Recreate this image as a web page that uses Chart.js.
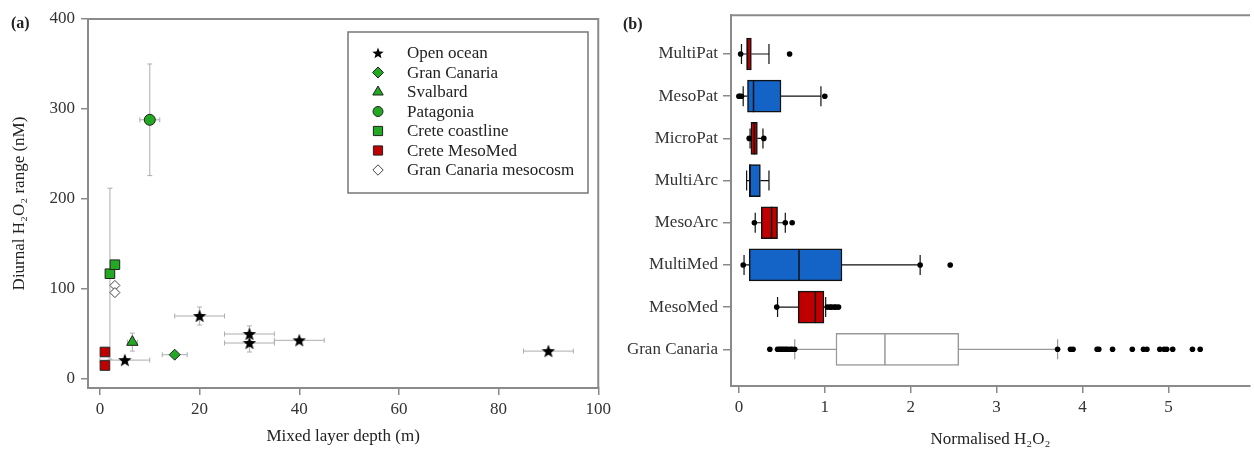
<!DOCTYPE html>
<html>
<head>
<meta charset="utf-8">
<script src="https://cdn.jsdelivr.net/npm/chart.js@4.4.1/dist/chart.umd.min.js"></script>
<style>
  html, body { margin: 0; padding: 0; background: #fff; }
  #wrapA { position: absolute; left: 0; top: 0; width: 615px; height: 450px; }
  #wrapB { position: absolute; left: 615px; top: 0; width: 639px; height: 450px; }
</style>
</head>
<body>
<div id="wrapA"><canvas id="chartA" width="615" height="450"></canvas></div>
<div id="wrapB"><canvas id="chartB" width="639" height="450"></canvas></div>
<script>
// ---- panel (a): diurnal range vs mixed layer depth ----
const groups = ['Open ocean', 'Gran Canaria', 'Svalbard', 'Patagonia', 'Crete coastline', 'Crete MesoMed', 'Gran Canaria mesocosm'];
const depthX = [[5, 20, 30, 30, 40, 90], [15], [6.5], [10], [2, 3], [1, 1], [3, 3]];
const rangeY = [[21, 70, 50, 40, 43, 31], [27], [41], [288], [117, 127], [30, 15], [104, 96]];
const depthErr = [[5, 5, 5, 5, 5, 5], [2.5], [1], [2], [0, 0], [0, 0], [0, 0]];
const rangeErr = [[0, 10, 9, 10, 0, 0], [0], [10], [62], [95, 0], [0, 0], [0, 0]];
const depthTicks = [0, 20, 40, 60, 80, 100];
const rangeTicks = [0, 100, 200, 300, 400];

// ---- panel (b): normalised H2O2 box plots ----
const boxNames = ['MultiPat', 'MesoPat', 'MicroPat', 'MultiArc', 'MesoArc', 'MultiMed', 'MesoMed', 'Gran Canaria'];
const whiskerLow = [0.03, 0.05, 0.13, 0.09, 0.19, 0.06, 0.45, 0.65];
const quart1 = [0.09, 0.10, 0.14, 0.12, 0.26, 0.12, 0.69, 1.13];
const medians = [0.10, 0.17, 0.18, 0.13, 0.38, 0.70, 0.89, 1.70];
const quart3 = [0.145, 0.49, 0.215, 0.25, 0.45, 1.20, 0.99, 2.56];
const whiskerHigh = [0.35, 0.955, 0.28, 0.35, 0.54, 2.11, 1.01, 3.71];
const outliers = [
  [0.02, 0.59],
  [0.0, 0.01, 0.03, 1.0],
  [0.12, 0.29],
  [],
  [0.18, 0.54, 0.62],
  [0.05, 2.11, 2.46],
  [0.44, 1.03, 1.06, 1.08, 1.11, 1.13, 1.16],
  [0.36, 0.45, 0.47, 0.49, 0.51, 0.53, 0.55, 0.57, 0.60, 0.62, 0.65,
   3.71, 3.86, 3.89, 4.17, 4.19, 4.35, 4.58, 4.71, 4.75, 4.90, 4.95, 4.98, 5.05, 5.28, 5.37]
];
const normTicks = [0, 1, 2, 3, 4, 5];

const GREEN = '#22a822';
const RED = '#c00000';
const BLUE = '#1463c6';
const AXIS = '#8a8a8a';
const FONT = "'Liberation Serif', 'Times New Roman', serif";

Chart.defaults.font.family = FONT;
Chart.defaults.color = '#333';

// filled five-point star used as a point style
function makeStar(size, color) {
  const c = document.createElement('canvas');
  c.width = size; c.height = size;
  const g = c.getContext('2d');
  const r1 = size / 2, r2 = size / 2 * 0.42;
  g.beginPath();
  for (let i = 0; i < 10; i++) {
    const r = i % 2 ? r2 : r1;
    const a = -Math.PI / 2 + i * Math.PI / 5;
    g.lineTo(size / 2 + r * Math.cos(a), size / 2 + 0.5 + r * Math.sin(a));
  }
  g.closePath();
  g.fillStyle = color;
  g.fill();
  return c;
}
const starBig = makeStar(14, '#000');
const starSmall = makeStar(12, '#000');

const markStyle = [
  { style: starBig, legendStyle: starSmall, r: 6, fill: '#000', line: '#000' },
  { style: 'rectRot', r: 5.5, fill: GREEN, line: '#222' },
  { style: 'triangle', r: 6.5, fill: GREEN, line: '#222' },
  { style: 'circle', r: 5.5, fill: GREEN, line: '#222' },
  { style: 'rect', r: 6.8, fill: GREEN, line: '#222' },
  { style: 'rect', r: 6.8, fill: RED, line: '#222' },
  { style: 'rectRot', r: 5, fill: '#fff', line: '#444' }
];

const errorBars = {
  id: 'errorBars',
  beforeDatasetsDraw(chart) {
    const { ctx, scales: { x, y } } = chart;
    ctx.save();
    ctx.strokeStyle = '#adadad';
    ctx.lineWidth = 1;
    depthX.forEach((xs, g) => xs.forEach((xv, i) => {
      const px = x.getPixelForValue(xv);
      const py = y.getPixelForValue(rangeY[g][i]);
      const dx = depthErr[g][i], dy = rangeErr[g][i];
      ctx.beginPath();
      if (dx) {
        const a = x.getPixelForValue(xv - dx), b = x.getPixelForValue(xv + dx);
        ctx.moveTo(a, py); ctx.lineTo(b, py);
        ctx.moveTo(a, py - 2.5); ctx.lineTo(a, py + 2.5);
        ctx.moveTo(b, py - 2.5); ctx.lineTo(b, py + 2.5);
      }
      if (dy) {
        const a = y.getPixelForValue(rangeY[g][i] + dy), b = y.getPixelForValue(rangeY[g][i] - dy);
        ctx.moveTo(px, a); ctx.lineTo(px, b);
        ctx.moveTo(px - 2.5, a); ctx.lineTo(px + 2.5, a);
        ctx.moveTo(px - 2.5, b); ctx.lineTo(px + 2.5, b);
      }
      ctx.stroke();
    }));
    ctx.restore();
  }
};

function drawMark(ctx, st, x, y, r) {
  if (typeof st.style !== 'string') {
    const img = st.legendStyle || st.style;
    ctx.drawImage(img, x - img.width / 2, y - img.height / 2);
    return;
  }
  ctx.beginPath();
  if (st.style === 'rect') {
    const s = r * Math.SQRT1_2;
    ctx.rect(x - s, y - s, 2 * s, 2 * s);
  } else if (st.style === 'rectRot') {
    ctx.moveTo(x, y - r); ctx.lineTo(x + r, y); ctx.lineTo(x, y + r); ctx.lineTo(x - r, y); ctx.closePath();
  } else if (st.style === 'triangle') {
    ctx.moveTo(x, y - r); ctx.lineTo(x + r * 0.87, y + r * 0.5); ctx.lineTo(x - r * 0.87, y + r * 0.5); ctx.closePath();
  } else {
    ctx.arc(x, y, r, 0, Math.PI * 2);
  }
  ctx.fillStyle = st.fill; ctx.fill();
  ctx.strokeStyle = st.line; ctx.lineWidth = 1; ctx.stroke();
}

const frameA = {
  id: 'frameA',
  afterDraw(chart) {
    const { ctx, chartArea: a } = chart;
    ctx.save();
    ctx.strokeStyle = AXIS;
    ctx.lineWidth = 2;
    ctx.beginPath();
    ctx.moveTo(a.left, a.top); ctx.lineTo(a.right, a.top); ctx.lineTo(a.right, a.bottom);
    ctx.stroke();
    // legend box
    const bx = a.left + 260, by = a.top + 13, bw = 240, bh = 161;
    ctx.lineWidth = 1.5;
    ctx.strokeStyle = '#777';
    ctx.strokeRect(bx, by, bw, bh);
    ctx.font = '17px ' + FONT;
    ctx.fillStyle = '#222';
    ctx.textBaseline = 'middle';
    groups.forEach((name, i) => {
      const yy = by + 21 + i * 19.5;
      const r = [5, 5.5, 6, 5, 6.5, 6.5, 5.2][i];
      drawMark(ctx, markStyle[i], bx + 30, yy, r);
      ctx.fillStyle = '#222';
      ctx.fillText(name, bx + 59, yy + 1);
    });
    ctx.font = 'bold 16px ' + FONT;
    ctx.textBaseline = 'alphabetic';
    ctx.fillText('(a)', 11, 28);
    ctx.restore();
  }
};

new Chart(document.getElementById('chartA'), {
  type: 'scatter',
  data: {
    datasets: groups.map((name, g) => ({
      label: name,
      data: depthX[g].map((xv, i) => ({ x: xv, y: rangeY[g][i] })),
      pointStyle: markStyle[g].style,
      pointRadius: markStyle[g].r,
      backgroundColor: markStyle[g].fill,
      borderColor: markStyle[g].line,
      borderWidth: 1
    }))
  },
  options: {
    responsive: false,
    animation: false,
    devicePixelRatio: 1,
    layout: { padding: { top: 19, right: 6, left: 0, bottom: 0 } },
    plugins: { legend: { display: false }, tooltip: { enabled: false } },
    scales: {
      x: {
        type: 'linear', min: -2.4, max: 100,
        afterBuildTicks(s) { s.ticks = depthTicks.map(v => ({ value: v })); },
        ticks: { font: { size: 17 }, padding: 4, color: '#333' },
        grid: { drawOnChartArea: false, tickLength: 7, color: AXIS, lineWidth: 1.5 },
        border: { color: AXIS, width: 2 },
        title: { display: true, text: 'Mixed layer depth (m)', font: { size: 17 }, color: '#222', padding: { bottom: 3 } },
        afterFit(s) { s.height = 62; }
      },
      y: {
        type: 'linear', min: -10, max: 400,
        afterBuildTicks(s) { s.ticks = rangeTicks.map(v => ({ value: v })); },
        ticks: { font: { size: 17 }, padding: 6, color: '#333' },
        grid: { drawOnChartArea: false, tickLength: 7, color: AXIS, lineWidth: 1.5 },
        border: { color: AXIS, width: 2 },
        title: { display: true, text: 'Diurnal H₂O₂ range (nM)', font: { size: 17 }, color: '#222', padding: { top: 9 } },
        afterFit(s) { s.width = 88; }
      }
    }
  },
  plugins: [errorBars, frameA]
});

// ---- panel (b) ----
const boxFill = [RED, BLUE, RED, BLUE, RED, BLUE, RED, '#ffffff'];
const boxLine = ['#111', '#111', '#111', '#111', '#111', '#111', '#111', '#999'];

const boxParts = {
  id: 'boxParts',
  beforeDatasetDraw(chart, args) {
    if (args.index !== 1) return;
    const { ctx, scales: { x, y } } = chart;
    ctx.save();
    ctx.lineWidth = 1.2;
    boxNames.forEach((n, i) => {
      const py = y.getPixelForValue(i + 1);
      const lo = x.getPixelForValue(whiskerLow[i]), hi = x.getPixelForValue(whiskerHigh[i]);
      const q1 = x.getPixelForValue(quart1[i]), q3 = x.getPixelForValue(quart3[i]);
      ctx.strokeStyle = boxLine[i];
      ctx.beginPath();
      ctx.moveTo(lo, py); ctx.lineTo(q1, py);
      ctx.moveTo(q3, py); ctx.lineTo(hi, py);
      ctx.moveTo(lo, py - 10); ctx.lineTo(lo, py + 10);
      ctx.moveTo(hi, py - 10); ctx.lineTo(hi, py + 10);
      ctx.stroke();
    });
    ctx.restore();
  },
  afterDatasetDraw(chart, args) {
    if (args.index !== 1) return;
    const { ctx, scales: { x, y } } = chart;
    ctx.save();
    ctx.lineWidth = 1.5;
    boxNames.forEach((n, i) => {
      const py = y.getPixelForValue(i + 1);
      const m = x.getPixelForValue(medians[i]);
      ctx.strokeStyle = boxLine[i];
      ctx.beginPath();
      ctx.moveTo(m, py - 16); ctx.lineTo(m, py + 16);
      ctx.stroke();
    });
    ctx.restore();
  },
  afterDraw(chart) {
    const { ctx, chartArea: a } = chart;
    ctx.save();
    ctx.strokeStyle = AXIS;
    ctx.lineWidth = 2;
    ctx.beginPath();
    ctx.moveTo(a.left, a.top); ctx.lineTo(a.right, a.top);
    ctx.stroke();
    ctx.font = 'bold 16px ' + FONT;
    ctx.fillStyle = '#222';
    ctx.fillText('(b)', 8, 29);
    ctx.restore();
  }
};

new Chart(document.getElementById('chartB'), {
  type: 'scatter',
  data: {
    datasets: [
      {
        label: 'outliers',
        data: outliers.flatMap((vals, i) => vals.map(v => ({ x: v, y: i + 1 }))),
        pointRadius: 2.8,
        backgroundColor: '#000',
        borderColor: '#000',
        borderWidth: 0
      },
      {
        type: 'bar',
        label: 'boxes',
        indexAxis: 'y',
        data: boxNames.map((n, i) => ({ y: i + 1, x: [quart1[i], quart3[i]] })),
        backgroundColor: boxFill,
        borderColor: boxLine,
        borderWidth: 1.5,
        borderSkipped: false,
        barThickness: 32
      }
    ]
  },
  options: {
    responsive: false,
    animation: false,
    devicePixelRatio: 1,
    layout: { padding: { top: 13, right: 0, left: 0, bottom: 0 } },
    plugins: { legend: { display: false }, tooltip: { enabled: false } },
    scales: {
      x: {
        type: 'linear', min: -0.092, max: 5.95, offset: false,
        afterBuildTicks(s) { s.ticks = normTicks.map(v => ({ value: v })); },
        ticks: { font: { size: 17 }, padding: 4, color: '#333' },
        grid: { drawOnChartArea: false, offset: false, tickLength: 7, color: AXIS, lineWidth: 1.5 },
        border: { color: AXIS, width: 2 },
        title: { display: true, text: 'Normalised H₂O₂', font: { size: 17 }, color: '#222', padding: { bottom: 0 } },
        afterFit(s) { s.height = 64; }
      },
      y: {
        type: 'linear', min: 0.08, max: 8.87, reverse: true, offset: false,
        afterBuildTicks(s) { s.ticks = boxNames.map((n, i) => ({ value: i + 1 })); },
        ticks: { font: { size: 17 }, padding: 5, color: '#333', callback: v => boxNames[v - 1] },
        grid: { drawOnChartArea: false, offset: false, tickLength: 8, color: AXIS, lineWidth: 1.5 },
        border: { color: AXIS, width: 2 },
        afterFit(s) { s.width = 116; }
      }
    }
  },
  plugins: [boxParts]
});
</script>
</body>
</html>
